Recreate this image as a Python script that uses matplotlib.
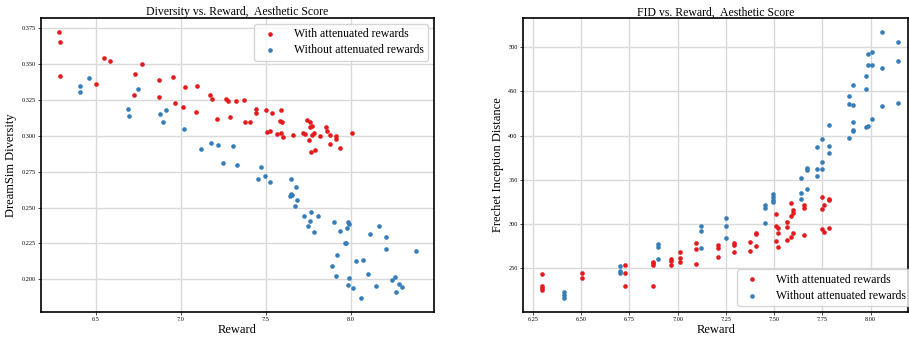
import numpy as np
import matplotlib.pyplot as plt

plt.rcParams['font.family'] = ['Liberation Serif', 'DejaVu Serif']

RED = "#e41a1c"
BLUE = "#377eb8"

# -------- Left panel: diversity vs reward --------
div_red_x = [6.287, 6.292, 6.290, 6.551, 6.582, 6.502, 6.774, 6.731, 6.725, 6.874,
             6.870, 6.954, 6.964, 7.011, 7.023, 7.093, 7.091, 7.174, 7.183, 7.211,
             7.266, 7.277, 7.291, 7.326, 7.371, 7.377, 7.407, 7.440, 7.442, 7.503,
             7.536, 7.591, 7.508, 7.524, 7.565, 7.581, 7.598, 7.591, 7.602, 7.659,
             7.720, 7.730, 7.741, 7.757, 7.769, 7.757, 7.751, 7.773, 7.786, 7.763,
             7.788, 7.818, 7.851, 7.857, 7.880, 7.880, 7.912, 7.912, 7.937, 8.004]
div_red_y = [0.3724, 0.3657, 0.3418, 0.3541, 0.3525, 0.3364, 0.3501, 0.3434, 0.3283, 0.3390,
             0.3269, 0.3413, 0.3230, 0.3204, 0.3339, 0.3346, 0.3164, 0.3285, 0.3255, 0.3118,
             0.3255, 0.3241, 0.3132, 0.3243, 0.3250, 0.3095, 0.3095, 0.3188, 0.3160, 0.3183,
             0.3157, 0.3181, 0.3025, 0.3037, 0.3013, 0.3104, 0.3095, 0.3020, 0.2990, 0.3006,
             0.3020, 0.3013, 0.3111, 0.3097, 0.3071, 0.3062, 0.2971, 0.3009, 0.3018, 0.2888,
             0.2899, 0.3002, 0.3062, 0.3034, 0.3009, 0.2944, 0.2999, 0.2981, 0.2916, 0.3023]

div_blue_x = [6.408, 6.406, 6.461, 6.688, 6.698, 6.749, 6.876, 6.911, 6.896, 7.021,
              7.121, 7.177, 7.219, 7.250, 7.305, 7.330, 7.454, 7.473, 7.495, 7.526,
              7.647, 7.675, 7.649, 7.643, 7.651, 7.686, 7.673, 7.724, 7.763, 7.761,
              7.749, 7.785, 7.808, 7.902, 7.935, 7.982, 7.986, 7.978, 7.965, 7.974,
              7.916, 7.888, 7.912, 7.980, 7.990, 8.012, 8.029, 8.071, 8.059, 8.102,
              8.112, 8.147, 8.166, 8.209, 8.206, 8.243, 8.259, 8.280, 8.264, 8.303,
              8.382]
div_blue_y = [0.3348, 0.3306, 0.3404, 0.3188, 0.3141, 0.3327, 0.3153, 0.3178, 0.3099, 0.3048,
              0.2906, 0.2953, 0.2937, 0.2809, 0.2930, 0.2800, 0.2700, 0.2781, 0.2718, 0.2679,
              0.2700, 0.2646, 0.2597, 0.2579, 0.2588, 0.2553, 0.2514, 0.2439, 0.2467, 0.2407,
              0.2374, 0.2330, 0.2439, 0.2402, 0.2339, 0.2397, 0.2386, 0.2358, 0.2256, 0.2251,
              0.2172, 0.2095, 0.2025, 0.1960, 0.2009, 0.1942, 0.2128, 0.2133, 0.1870, 0.2039,
              0.2314, 0.1956, 0.2372, 0.2297, 0.2211, 0.1998, 0.2016, 0.1970, 0.1912, 0.1944,
              0.2200]

# -------- Right panel: FID vs reward --------
fid_red_x = [6.295, 6.295, 6.295, 6.295, 6.505, 6.505, 6.728, 6.728, 6.728,
             6.871, 6.871, 6.871, 6.871, 6.967, 6.967, 6.967, 7.014, 7.014, 7.014,
             7.093, 7.093, 7.093, 7.210, 7.210, 7.210, 7.293, 7.293, 7.293,
             7.376, 7.376, 7.405, 7.405, 7.405, 7.509, 7.509, 7.509,
             7.522, 7.522, 7.522, 7.566, 7.566, 7.566, 7.588, 7.588, 7.588,
             7.600, 7.600, 7.600, 7.655, 7.655, 7.655, 7.750, 7.750, 7.750,
             7.760, 7.760, 7.786, 7.786, 7.786]
fid_red_y = [243.6, 230.0, 228.0, 225.9, 244.7, 239.5, 254.1, 245.1, 230.0,
             257.0, 255.6, 253.4, 230.4, 261.1, 258.7, 254.1, 268.5, 262.0, 256.8,
             278.6, 272.2, 254.5, 276.4, 272.6, 262.8, 278.2, 276.0, 268.1,
             280.1, 269.6, 289.9, 289.2, 274.9, 311.7, 297.4, 280.5,
             296.0, 289.9, 274.5, 302.7, 296.3, 281.6, 324.2, 309.1, 285.0,
             315.9, 312.9, 289.5, 321.2, 317.8, 287.7, 330.6, 316.6, 294.8,
             322.0, 290.7, 327.2, 327.9, 295.9]

fid_blue_x = [6.409, 6.409, 6.409, 6.700, 6.700, 6.700, 6.897, 6.897, 6.897,
              7.121, 7.121, 7.121, 7.248, 7.248, 7.248, 7.452, 7.452, 7.452,
              7.493, 7.493, 7.493, 7.493, 7.641, 7.641, 7.641, 7.671, 7.671, 7.671,
              7.722, 7.722, 7.722, 7.748, 7.748, 7.748, 7.783, 7.783, 7.783,
              7.886, 7.886, 7.886, 7.907, 7.907, 7.909, 7.907, 7.909,
              7.976, 7.976, 7.976, 7.988, 7.988, 7.988, 8.007, 8.007, 8.007,
              8.057, 8.057, 8.057, 8.140, 8.140, 8.140]
fid_blue_y = [222.9, 219.5, 216.9, 252.6, 246.6, 244.4, 277.1, 273.7, 260.9,
              298.2, 292.2, 272.6, 306.9, 297.8, 283.9, 321.5, 317.8, 300.8,
              333.6, 330.2, 327.2, 325.3, 351.7, 334.7, 328.3, 363.7, 361.1, 340.0,
              387.0, 362.6, 353.9, 396.5, 370.1, 362.6, 411.5, 388.6, 380.3,
              444.7, 435.6, 396.8, 457.5, 434.9, 415.3, 406.3, 405.1,
              467.6, 452.6, 409.3, 492.5, 479.3, 411.1, 494.0, 479.3, 419.1,
              516.9, 475.9, 433.0, 505.6, 483.8, 437.1]

LABELS = ["With attenuated rewards", "Without attenuated rewards"]

fig = plt.figure(figsize=(9.09, 3.37), dpi=100)
ax1 = fig.add_axes([0.0451, 0.075, 0.4323, 0.8706])
ax2 = fig.add_axes([0.5757, 0.075, 0.4235, 0.8706])


def style(ax):
    ax.grid(True, color="#d9d9d9", linewidth=1.0)
    ax.set_axisbelow(True)
    ax.tick_params(labelsize=4.5, length=2, width=0.5, pad=2)
    for s in ax.spines.values():
        s.set_linewidth(1.2)


# left
ax1.scatter(div_red_x, div_red_y, s=11, color=RED, linewidths=0, label=LABELS[0], zorder=3)
ax1.scatter(div_blue_x, div_blue_y, s=11, color=BLUE, linewidths=0, label=LABELS[1], zorder=3)
ax1.set_xlim(6.179, 8.488)
ax1.set_ylim(0.1774, 0.382)
ax1.set_xticks([6.5, 7.0, 7.5, 8.0])
ax1.set_yticks(np.arange(0.200, 0.376, 0.025))
ax1.set_title("Diversity vs. Reward,  Aesthetic Score", fontsize=8.5, pad=2)
ax1.set_xlabel("Reward", fontsize=9, labelpad=1)
ax1.set_ylabel("DreamSim Diversity", fontsize=9, labelpad=3)
style(ax1)
ax1.legend(loc="upper right", fontsize=8.5, scatterpoints=1, borderpad=0.35,
           labelspacing=0.35, handletextpad=1.0, framealpha=0.8)

# right
ax2.scatter(fid_red_x, fid_red_y, s=11, color=RED, linewidths=0, label=LABELS[0], zorder=3)
ax2.scatter(fid_blue_x, fid_blue_y, s=11, color=BLUE, linewidths=0, label=LABELS[1], zorder=3)
ax2.set_xlim(6.200, 8.195)
ax2.set_ylim(201.1, 532.4)
ax2.set_xticks([6.25, 6.50, 6.75, 7.00, 7.25, 7.50, 7.75, 8.00])
ax2.set_yticks([250, 300, 350, 400, 450, 500])
ax2.set_title("FID vs. Reward,  Aesthetic Score", fontsize=8.5, pad=2)
ax2.set_xlabel("Reward", fontsize=9, labelpad=1)
ax2.set_ylabel("Frechet Inception Distance", fontsize=9, labelpad=3)
style(ax2)
ax2.legend(loc="lower right", bbox_to_anchor=(1.02, 0.0), fontsize=8.5, scatterpoints=1,
           borderpad=0.35, labelspacing=0.35, handletextpad=1.0, framealpha=0.8)

plt.savefig("out.png", dpi=100)
